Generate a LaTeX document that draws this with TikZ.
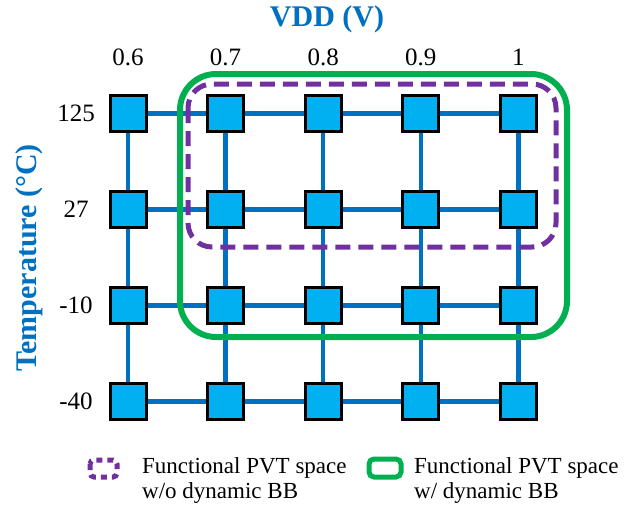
\documentclass[tikz,border=0pt]{standalone}
\usepackage{fontspec}
\setmainfont{Liberation Serif}
\usetikzlibrary{backgrounds}
\definecolor{gridblue}{HTML}{0070C0}
\definecolor{boxfill}{HTML}{00B0F0}
\definecolor{pvtpurple}{HTML}{7030A0}
\definecolor{pvtgreen}{HTML}{00B050}
\tikzset{
  cell/.style={draw=black, line width=3pt, fill=boxfill, minimum size=36pt, inner sep=0pt},
  wire/.style={draw=gridblue, line width=4.5pt},
  ticklbl/.style={font=\fontsize{25}{30}\selectfont, inner sep=0pt},
  axislbl/.style={font=\fontsize{30}{36}\selectfont\bfseries, text=gridblue, inner sep=0pt},
  legtext/.style={font=\fontsize{23}{25}\selectfont, align=left, anchor=west, inner sep=0pt},
  nobb/.style={draw=pvtpurple, line width=5pt, dash pattern=on 15pt off 8pt, rounded corners=24pt},
  withbb/.style={draw=pvtgreen, line width=6pt, rounded corners=36pt},
}
\begin{document}
\begin{tikzpicture}[x=1pt, y=-1pt]
\useasboundingbox (0,0) rectangle (630,506);
% squares
\foreach \r/\yy in {1/113.5, 2/209.5, 3/305.5, 4/401.5} {
  \foreach \c/\xx in {1/128, 2/225.6, 3/323.2, 4/420.8, 5/518.4} {
    \node[cell] (s-\r-\c) at (\xx,\yy) {};
  }
}
% grid wires
\begin{scope}[on background layer]
\foreach \r in {1,2,3,4} {
  \foreach \c/\n in {1/2, 2/3, 3/4, 4/5} {
    \draw[wire] (s-\r-\c.center) -- (s-\r-\n.center);
  }
}
\foreach \c in {1,2,3,4,5} {
  \foreach \r/\n in {1/2, 2/3, 3/4} {
    \draw[wire] (s-\r-\c.center) -- (s-\n-\c.center);
  }
}
\end{scope}
% regions
\draw[withbb] (180,74) rectangle (567,337);
\draw[nobb] (188,84) rectangle (556,247);
% axis labels
\node[axislbl] (vdd) at (327,19) {VDD (V)};
\node[axislbl, rotate=90] (temp) at (29,258) {Temperature (°C)};
\foreach \c/\xx/\t in {1/128/0.6, 2/225.6/0.7, 3/323.2/0.8, 4/420.8/0.9, 5/518.4/1} {
  \node[ticklbl] (v-\c) at (\xx,57) {\t};
}
\foreach \r/\yy/\t in {1/113.5/125, 2/209.5/27, 3/305.5/-10, 4/401.5/-40} {
  \node[ticklbl] (t-\r) at (76,\yy) {\t};
}
% legend
\draw[draw=pvtpurple, line width=5pt, dash pattern=on 6pt off 5pt, rounded corners=4pt] (90,460) rectangle (117,477);
\node[legtext] (l1) at (142,480) {Functional PVT space\\w/o dynamic BB};
\draw[draw=pvtgreen, line width=5pt, rounded corners=5pt] (369,459) rectangle (401,477);
\node[legtext] (l2) at (414,480) {Functional PVT space\\w/ dynamic BB};
\end{tikzpicture}
\end{document}
